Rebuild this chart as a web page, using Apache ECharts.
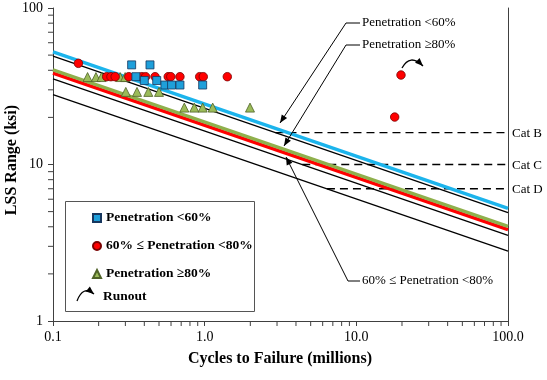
<!DOCTYPE html>
<html><head><meta charset="utf-8">
<script src="https://cdn.jsdelivr.net/npm/echarts@6/dist/echarts.min.js"></script>
<style>html,body{margin:0;padding:0;background:#fff}#c{width:547px;height:380px}</style>
</head><body><div id="c"></div>
<script>
// ---- tick labels ----
const xTickValues = [0.1, 1, 10, 100];
const xTickLabels = ['0.1', '1.0', '10.0', '100.0'];
const yTickValues = [1, 10, 100];
const yTickLabels = ['1', '10', '100'];

// ---- series names ----
const nameLt60 = 'Penetration <60%';
const name60to80 = '60% \u2264 Penetration <80%';
const nameGe80 = 'Penetration \u226580%';

// ---- test data: [cycles (millions), LSS range (ksi)] ----
const penLt60 = [[0.330,43.3],[0.436,43.3],[0.352,36.4],[0.400,34.4],[0.483,34.4],
  [0.547,32.2],[0.605,32.2],[0.687,32.2],[0.970,32.2]];
const pen60to80 = [[0.147,44.3],[0.226,36.4],[0.241,36.4],[0.257,36.4],[0.316,36.4],
  [0.385,36.4],[0.408,36.4],[0.471,36.4],[0.575,36.4],[0.598,36.4],[0.687,36.4],
  [0.927,36.4],[0.979,36.4],[1.41,36.4],[17.9,20.1],[19.7,37.3]];
const penGe80 = [[0.169,36.2],[0.192,36.2],[0.209,36.2],[0.277,36.2],[0.299,36.2],
  [0.302,29.1],[0.358,29.1],[0.425,29.1],[0.500,29.1],
  [0.734,23.1],[0.854,23.1],[0.970,23.1],[1.13,23.1],[1.99,23.1]];
const runoutPoint = [19.7, 37.3];

// ---- S-N lines: stress at 0.1 and at 100 million cycles ----
const lineEnds = [0.1, 100];
const fitLt60 = [52.5, 5.25];
const fit60to80 = [38.4, 3.84];
const fitGe80 = [40.2, 4.02];
const catB = [49.3, 4.93];
const catC = [35.3, 3.53];
const catD = [28.0, 2.80];
// ---- constant-amplitude thresholds: [start cycles, stress] ----
const catNames = ['Cat B', 'Cat C', 'Cat D'];
const thresholds = [[2.93, 16], [4.4, 10], [6.4, 7]];

const FONT = '"Liberation Serif","Times New Roman",serif';
const chart = echarts.init(document.getElementById('c'));

function lineData(v) { return [[lineEnds[0], v[0]], [lineEnds[1], v[1]]]; }
function sn(v, color, w, z) {
  return { type: 'line', data: lineData(v), symbol: 'none', silent: true, z: z,
    lineStyle: { color: color, width: w }, animation: false };
}
function pickLabel(vals, labels) {
  return function (v) {
    for (let i = 0; i < vals.length; i++) if (Math.abs(Math.log10(v) - Math.log10(vals[i])) < 1e-6) return labels[i];
    return '';
  };
}
const xMinor = [], yMinor = [];
[0.1, 1, 10].forEach(d => { for (let k = 2; k <= 9; k++) xMinor.push([d * k, 1]); });
[1, 10].forEach(d => { for (let k = 2; k <= 9; k++) yMinor.push([0.1, d * k]); });

const axisCol = '#404040';
const series = [
  sn(catD, '#000', 1.3, 2), sn(catC, '#000', 1.3, 2), sn(catB, '#000', 1.3, 2),
  sn(fit60to80, '#FF0000', 3.5, 3), sn(fitGe80, '#8FB04C', 3.5, 3), sn(fitLt60, '#1CB4EC', 3.5, 3)
];
thresholds.forEach(t => series.push({
  type: 'line', data: [[t[0], t[1]], [100, t[1]]], symbol: 'none', silent: true, z: 2,
  lineStyle: { color: '#000', width: 1.3, type: [8, 5] }, animation: false
}));
series.push(
  { name: nameLt60, type: 'scatter', data: penLt60, symbol: 'rect', symbolSize: 8, z: 6,
    itemStyle: { color: '#1E9FDA', borderColor: '#17375E', borderWidth: 0.8, opacity: 1 } },
  { name: name60to80, type: 'scatter', data: pen60to80, symbol: 'circle', symbolSize: 8.5, z: 5,
    itemStyle: { color: '#FF0000', borderColor: '#7A0000', borderWidth: 0.8, opacity: 1 } },
  { name: nameGe80, type: 'scatter', data: penGe80, symbol: 'triangle', symbolSize: 9, z: 4,
    itemStyle: { color: '#9BBB59', borderColor: '#4F6228', borderWidth: 0.8, opacity: 1 } }
);
function minorTicks(data, horizontal) {
  return { type: 'custom', data: data, clip: false, silent: true, z: 1,
    renderItem: function (params, api) {
      const p = api.coord([api.value(0), api.value(1)]);
      const s = horizontal ? { x1: p[0], y1: p[1], x2: p[0], y2: p[1] + 5 }
                           : { x1: p[0] - 5, y1: p[1], x2: p[0], y2: p[1] };
      return { type: 'line', shape: s, style: { stroke: axisCol, lineWidth: 1 } };
    } };
}
series.push(minorTicks(xMinor, true), minorTicks(yMinor, false));

chart.setOption({
  animation: false,
  backgroundColor: '#fff',
  grid: { left: 53, right: 39, top: 8, bottom: 59 },
  xAxis: { type: 'log', logBase: 10, min: 0.1, max: 100,
    axisLine: { lineStyle: { color: axisCol, width: 1 } },
    axisTick: { show: true, length: 5, lineStyle: { color: axisCol } },
    splitLine: { show: false }, minorTick: { show: false },
    axisLabel: { formatter: pickLabel(xTickValues, xTickLabels), fontFamily: FONT, fontSize: 14, color: '#000', margin: 9 } },
  yAxis: [
    { type: 'log', logBase: 10, min: 1, max: 100,
      axisLine: { show: true, lineStyle: { color: axisCol, width: 1 } },
      axisTick: { show: true, length: 5, lineStyle: { color: axisCol } },
      splitLine: { show: false },
      axisLabel: { formatter: pickLabel(yTickValues, yTickLabels), fontFamily: FONT, fontSize: 14, color: '#000', margin: 10 } },
    { type: 'log', logBase: 10, min: 1, max: 100, position: 'right',
      axisLine: { show: true, lineStyle: { color: axisCol, width: 1 } },
      axisTick: { show: false }, axisLabel: { show: false }, splitLine: { show: false } }
  ],
  legend: { data: [nameLt60, name60to80, nameGe80], orient: 'vertical', left: 92, top: 211,
    padding: 0, itemWidth: 8, itemHeight: 8, itemGap: 14, selectedMode: false,
    textStyle: { fontFamily: FONT, fontWeight: 'bold', fontSize: 13.5, color: '#000', lineHeight: 14 } },
  series: series
});

// ---- annotations ----
function arrowParts(x1, y1, x2, y2, fx, fy) {
  const dx = x2 - fx, dy = y2 - fy, L = Math.hypot(dx, dy), ux = dx / L, uy = dy / L;
  const hl = 8, hw = 3.2;
  const bx = x2 - ux * hl, by = y2 - uy * hl;
  return { type: 'polygon', silent: true, z: 100,
    shape: { points: [[x2, y2], [bx - uy * hw, by + ux * hw], [bx + uy * hw, by - ux * hw]] },
    style: { fill: '#000' } };
}
function leader(tx, ty, hx, hy, ex, ey) {
  return [
    { type: 'polyline', silent: true, z: 100, shape: { points: [[tx, ty], [hx, hy], [ex, ey]] },
      style: { stroke: '#000', lineWidth: 1, fill: null } },
    arrowParts(hx, hy, ex, ey, hx, hy)
  ];
}
function curvedArrow(x1, y1, cx, cy, x2, y2) {
  return [
    { type: 'bezierCurve', silent: true, z: 100, shape: { x1: x1, y1: y1, x2: x2, y2: y2, cpx1: cx, cpy1: cy },
      style: { stroke: '#000', lineWidth: 1.3, fill: null } },
    arrowParts(cx, cy, x2, y2, cx, cy)
  ];
}
function txt(x, y, s, opt) {
  return Object.assign({ type: 'text', silent: true, z: 100, x: x, y: y,
    style: { text: s, fontFamily: FONT, fontSize: 13, fill: '#000', textVerticalAlign: 'middle', textAlign: 'left' } }, opt || {});
}
const g = [];
g.push({ type: 'text', silent: true, x: 12, y: 160, rotation: Math.PI / 2,
  style: { text: 'LSS Range (ksi)', fontFamily: FONT, fontWeight: 'bold', fontSize: 16, fill: '#000', textAlign: 'center', textVerticalAlign: 'middle' } });
g.push({ type: 'text', silent: true, x: 280, y: 359,
  style: { text: 'Cycles to Failure (millions)', fontFamily: FONT, fontWeight: 'bold', fontSize: 16, fill: '#000', textAlign: 'center', textVerticalAlign: 'middle' } });
thresholds.forEach((t, i) => {
  const p = chart.convertToPixel({ xAxisIndex: 0, yAxisIndex: 0 }, [100, t[1]]);
  g.push(txt(p[0] + 4, p[1] + 1, catNames[i]));
});
g.push(txt(362, 23, nameLt60));
g.push(...leader(360, 23, 346, 23, 280, 123));
g.push(txt(362, 45, nameGe80));
g.push(...leader(360, 45, 346, 45, 284, 146));
g.push(txt(362, 281, name60to80));
g.push(...leader(360, 281, 348, 281, 286, 157));
const rp = chart.convertToPixel({ xAxisIndex: 0, yAxisIndex: 0 }, runoutPoint);
g.push(...curvedArrow(rp[0] + 1, rp[1] - 7, rp[0] + 9, rp[1] - 22, rp[0] + 22, rp[1] - 9));
g.push({ type: 'rect', silent: true, z: 90, shape: { x: 65.5, y: 201.5, width: 189, height: 110 },
  style: { fill: null, stroke: '#555', lineWidth: 1 } });
g.push(...curvedArrow(77, 301, 83, 285, 94, 294));
g.push(txt(103, 297, 'Runout', { style: { text: 'Runout', fontFamily: FONT, fontWeight: 'bold', fontSize: 13.5, fill: '#000', textVerticalAlign: 'middle' } }));
chart.setOption({ graphic: g });
</script></body></html>
